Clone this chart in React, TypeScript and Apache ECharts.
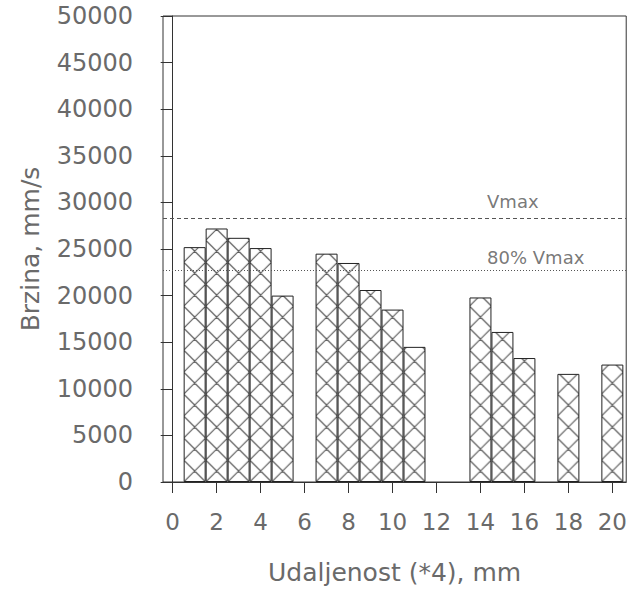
import React, { useEffect, useRef } from 'react';
import * as echarts from 'echarts';

// Data
const positions = [1, 2, 3, 4, 5, 7, 8, 9, 10, 11, 14, 15, 16, 18, 20];
const speeds = [25200, 27200, 26200, 25100, 20000, 24500, 23500, 20600, 18500, 14500, 19800, 16100, 13300, 11600, 12600];
const xTicks = [0, 2, 4, 6, 8, 10, 12, 14, 16, 18, 20];
const vmax = 28350;
const v80 = 22680;
const refNames = ['Vmax', '80% Vmax'];
const refValues = [vmax, v80];
const refLabelX = 14.3;

const FONT = 'DejaVu Sans';
const TEXT = '#6a6a6a';
const LINE = '#333333';

// Build a crosshatch tile of size `unit`, with its crossings shifted to (ox, oy)
function hatchUrl(unit: number, ox: number, oy: number): string {
  const dx = ((ox % unit) + unit) % unit;
  const dy = ((oy % unit) + unit) % unit;
  let d = '';
  for (let i = -1; i <= 1; i++) {
    for (let j = -1; j <= 1; j++) {
      const bx = dx + i * unit;
      const by = dy + j * unit;
      d += `M${bx - 2},${by - 2}L${bx + unit + 2},${by + unit + 2}`;
      d += `M${bx + unit + 2},${by - 2}L${bx - 2},${by + unit + 2}`;
    }
  }
  const svg =
    `<svg xmlns='http://www.w3.org/2000/svg' width='${unit}' height='${unit}' viewBox='0 0 ${unit} ${unit}'>` +
    `<rect width='${unit}' height='${unit}' fill='#ffffff'/>` +
    `<path d='${d}' stroke='#3a3a3a' stroke-width='1' fill='none'/>` +
    '</svg>';
  return 'data:image/svg+xml;charset=utf-8,' + encodeURIComponent(svg);
}

function buildOption(unit: number, origin: { x: number; y: number } | null): any {
  const fill: any = origin
    ? {
        image: hatchUrl(unit, origin.x, origin.y),
        repeat: 'repeat',
        imageWidth: unit,
        imageHeight: unit,
      }
    : '#ffffff';
  return {
    animation: false,
    backgroundColor: '#ffffff',
    grid: {
      left: 163,
      right: 2,
      top: 16,
      bottom: 102,
      show: true,
      borderColor: LINE,
      borderWidth: 1,
      backgroundColor: 'transparent',
    },
    xAxis: {
      type: 'value',
      min: -0.44,
      max: 20.63,
      name: 'Udaljenost (*4), mm',
      nameLocation: 'middle',
      nameGap: 78,
      nameTextStyle: { fontFamily: FONT, fontSize: 25, color: TEXT },
      axisLine: { show: true, onZero: false, lineStyle: { color: LINE, width: 1 } },
      axisTick: { show: true, length: 11, customValues: xTicks, lineStyle: { color: LINE, width: 1 } },
      axisLabel: { customValues: xTicks, fontFamily: FONT, fontSize: 23, color: TEXT, margin: 28 },
      splitLine: { show: false },
    },
    yAxis: {
      type: 'value',
      min: 0,
      max: 50000,
      interval: 5000,
      name: 'Brzina, mm/s',
      nameLocation: 'middle',
      nameGap: 120,
      nameTextStyle: { fontFamily: FONT, fontSize: 25, color: TEXT },
      axisLine: { show: true, lineStyle: { color: LINE, width: 1 } },
      axisTick: { show: true, length: 12, lineStyle: { color: LINE, width: 1 } },
      axisLabel: {
        fontFamily: FONT,
        fontSize: 24,
        color: TEXT,
        margin: 30,
        formatter: (v: number) => String(v),
      },
      splitLine: { show: false },
    },
    series: [
      {
        type: 'bar',
        data: positions.map((p, i) => [p, speeds[i]]),
        barWidth: unit,
        itemStyle: { color: fill, borderColor: '#222222', borderWidth: 1 },
        markLine: {
          silent: true,
          symbol: 'none',
          label: { show: false },
          data: [
            { yAxis: vmax, lineStyle: { color: '#555555', width: 1, type: [4, 3] } },
            { yAxis: v80, lineStyle: { color: '#555555', width: 1, type: [1, 2] } },
          ],
        },
      },
      {
        type: 'scatter',
        symbolSize: 0,
        silent: true,
        data: refNames.map((n, i) => ({
          value: [refLabelX, refValues[i], n],
          label: { position: [0, i === 0 ? -7 : -4] },
        })),
        label: {
          show: true,
          formatter: (p: any) => p.data.value[2],
          align: 'left',
          verticalAlign: 'bottom',
          fontFamily: FONT,
          fontSize: 18,
          color: '#555555',
        },
      },
    ],
  };
}

export default function App() {
  const ref = useRef<HTMLDivElement>(null);
  useEffect(() => {
    document.body.style.margin = '0';
    const chart = echarts.init(ref.current!, undefined, { renderer: 'svg' });
    chart.setOption(buildOption(22, null));
    const p0 = chart.convertToPixel({ gridIndex: 0 }, [0.5, 0]) as number[];
    const p1 = chart.convertToPixel({ gridIndex: 0 }, [1.5, 0]) as number[];
    const unit = p1[0] - p0[0];
    chart.setOption(buildOption(unit, { x: p0[0], y: p0[1] }));
    return () => chart.dispose();
  }, []);
  return <div ref={ref} style={{ width: 630, height: 590 }} />;
}
